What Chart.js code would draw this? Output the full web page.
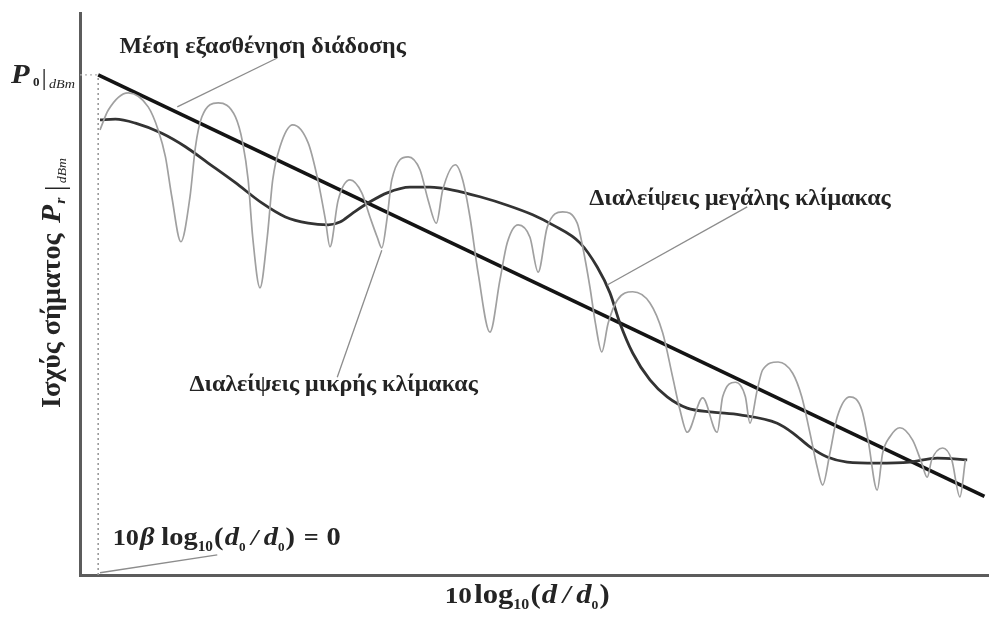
<!DOCTYPE html>
<html>
<head>
<meta charset="utf-8">
<script src="https://cdn.jsdelivr.net/npm/chart.js@4/dist/chart.umd.min.js"></script>
<style>
  html, body { margin: 0; padding: 0; background: #ffffff; }
  canvas { display: block; }
</style>
</head>
<body>
<canvas id="fading" width="989" height="617"></canvas>
<script>
// Received power vs. normalised log-distance (arbitrary units: x 0..100, y 0..100)

// Mean path loss (straight line)
const meanPathLoss = [[2.0, 89.0], [99.5, 14.0]];

// Large-scale (shadow) fading
const largeScale = [
  [2.2, 81.0], [3.9, 81.1], [6.1, 80.4], [9.0, 78.6], [11.6, 76.2], [14.1, 73.3],
  [17.1, 69.8], [20.0, 66.2], [22.6, 63.7], [25.1, 62.6], [27.3, 62.3], [28.6, 62.8],
  [30.0, 64.4], [31.9, 66.4], [33.8, 68.0], [36.3, 69.0], [38.5, 69.0], [41.0, 68.5],
  [44.0, 67.3], [47.0, 65.8], [49.8, 64.1], [52.0, 62.3], [55.0, 59.1], [56.9, 54.8],
  [58.3, 50.2], [59.4, 44.8], [60.8, 39.5], [62.7, 34.7], [64.6, 31.7], [66.8, 29.7],
  [69.6, 29.0], [72.6, 28.5], [76.7, 27.0], [78.4, 25.3], [80.3, 22.8], [82.2, 21.0],
  [84.4, 20.1], [87.7, 19.9], [91.3, 20.1], [94.3, 20.8], [97.6, 20.5]
];

// Small-scale (multipath) fading
const smallScale = [
  [2.2, 79.2], [3.1, 82.7], [5.3, 85.8], [7.5, 83.3], [8.6, 79.2], [9.4, 74.4],
  [10.1, 67.3], [11.1, 59.3], [12.1, 67.3], [12.7, 76.2], [13.4, 81.5], [15.2, 84.0],
  [17.1, 81.5], [17.9, 76.9], [18.5, 70.3], [19.0, 60.1], [19.8, 51.1], [20.6, 60.1],
  [21.2, 70.3], [22.0, 76.2], [23.4, 80.1], [25.1, 76.9], [26.1, 70.8], [27.0, 63.2],
  [27.5, 58.4], [28.4, 66.7], [29.7, 70.3], [31.0, 68.0], [31.9, 63.7], [32.7, 60.1],
  [33.2, 58.2], [33.8, 63.7], [34.3, 70.3], [36.1, 74.4], [37.4, 72.1], [38.3, 66.7],
  [39.2, 62.6], [39.9, 68.5], [41.3, 73.0], [42.1, 70.3], [42.9, 63.7], [43.8, 53.7],
  [45.1, 43.2], [46.2, 52.5], [47.0, 59.1], [48.2, 62.3], [49.5, 60.1], [50.4, 53.9],
  [51.4, 61.9], [53.1, 64.6], [54.7, 62.6], [55.3, 58.4], [56.1, 51.2], [56.7, 44.8],
  [57.4, 39.7], [58.1, 44.8], [59.1, 48.9], [60.8, 50.4], [62.7, 48.4], [64.1, 43.1],
  [65.2, 35.2], [66.0, 29.4], [66.8, 25.4], [68.5, 31.5], [70.1, 25.4], [70.7, 31.7],
  [72.1, 34.3], [73.2, 31.7], [73.7, 27.0], [74.5, 32.9], [75.1, 36.5], [76.8, 37.9],
  [78.4, 35.9], [79.4, 31.7], [80.3, 25.3], [81.1, 19.2], [81.7, 16.0], [82.5, 21.7],
  [83.3, 28.1], [84.7, 31.7], [86.0, 29.4], [86.7, 24.0], [87.7, 15.1], [88.3, 21.7],
  [89.1, 24.6], [90.2, 26.2], [91.6, 24.0], [92.6, 19.9], [93.2, 17.4], [93.7, 20.5],
  [94.9, 22.6], [95.9, 20.5], [96.8, 13.9], [97.4, 20.5]
];

// Reference markers at d = d0
const refVertical = [[2.0, 0], [2.0, 89.0]];
const refHorizontal = [[0, 89.0], [2.0, 89.0]];

// Callout leader lines
const leaderMean = [[21.7, 92.0], [10.7, 83.3]];
const leaderLarge = [[73.4, 65.5], [58.0, 51.6]];
const leaderSmall = [[28.3, 35.2], [33.2, 57.8]];
const leaderOrigin = [[15.1, 3.6], [2.2, 0.4]];

// Text labels
const labelMean = 'Μέση εξασθένηση διάδοσης';
const labelLarge = 'Διαλείψεις μεγάλης κλίμακας';
const labelSmall = 'Διαλείψεις μικρής κλίμακας';
const labelYAxis = 'Ισχύς σήματος';

const pts = arr => arr.map(([x, y]) => ({ x, y }));

const SERIF = '"Liberation Serif", "DejaVu Serif", serif';
const TEXT = '#242424';

// Draws a run of differently styled text pieces one after another;
// when a width is given, the run is stretched horizontally to that width
function drawRich(ctx, parts, x, y, align, width) {
  let total = 0;
  parts.forEach(p => {
    ctx.font = p.font;
    p.w = ctx.measureText(p.t).width;
    total += p.w + (p.gap || 0);
  });
  const sx = width ? width / total : 1;
  const start = align === 'center' ? x - (total * sx) / 2 : x;
  ctx.save();
  ctx.translate(start, y);
  ctx.scale(sx, 1);
  let cx = 0;
  parts.forEach(p => {
    ctx.font = p.font;
    ctx.fillText(p.t, cx, p.dy || 0);
    cx += p.w + (p.gap || 0);
  });
  ctx.restore();
}

const annotations = {
  id: 'annotations',
  afterDraw(chart) {
    const ctx = chart.ctx;
    const X = v => chart.scales.x.getPixelForValue(v);
    const Y = v => chart.scales.y.getPixelForValue(v);
    ctx.save();
    ctx.fillStyle = TEXT;
    ctx.textBaseline = 'alphabetic';
    ctx.textAlign = 'left';

    const B = s => `bold ${s}px ${SERIF}`;
    const BI = s => `italic bold ${s}px ${SERIF}`;

    drawRich(ctx, [{ t: labelMean, font: B(24) }], X(20.1), Y(92.9), 'center');
    drawRich(ctx, [{ t: labelLarge, font: B(24) }], X(72.6), Y(65.8), 'center');
    drawRich(ctx, [{ t: labelSmall, font: B(24) }], X(27.9), Y(32.7), 'center');

    // 10β log10(d0 / d0) = 0
    drawRich(ctx, [
      { t: '10', font: B(24), gap: 1 },
      { t: 'β', font: BI(26), gap: 6 },
      { t: 'log', font: B(26) },
      { t: '10', font: B(14), dy: 6, gap: 1 },
      { t: '(', font: B(26), gap: 1 },
      { t: 'd', font: BI(26) },
      { t: '0', font: B(12), dy: 6, gap: 5 },
      { t: '/', font: BI(24), gap: 5 },
      { t: 'd', font: BI(26) },
      { t: '0', font: B(12), dy: 6, gap: 1 },
      { t: ')', font: B(26), gap: 8 },
      { t: '=', font: B(24), gap: 7 },
      { t: '0', font: B(26) }
    ], X(3.6), Y(5.3), 'left', 228);

    // x-axis title: 10 log10(d / d0)
    drawRich(ctx, [
      { t: '10', font: B(24), gap: 2 },
      { t: 'log', font: B(27) },
      { t: '10', font: B(14), dy: 6, gap: 1 },
      { t: '(', font: B(27), gap: 1 },
      { t: 'd', font: BI(27), gap: 5 },
      { t: '/', font: BI(25), gap: 5 },
      { t: 'd', font: BI(27) },
      { t: '0', font: B(12), dy: 6, gap: 1 },
      { t: ')', font: B(27) }
    ], X(49.2), chart.chartArea.bottom + 28, 'center', 165);

    // P0 | dBm at the top of the power axis
    drawRich(ctx, [
      { t: 'P', font: BI(28), gap: 3 },
      { t: '0', font: B(12), dy: 3, gap: 2 },
      { t: '|', font: `24px ${SERIF}`, dy: 2, gap: 2 },
      { t: 'dBm', font: `italic 13px ${SERIF}`, dy: 5 }
    ], 11, Y(89.0) + 8, 'left', 64);

    // rotated power axis title
    ctx.translate(60, 283);
    ctx.rotate(-Math.PI / 2);
    drawRich(ctx, [
      { t: labelYAxis, font: B(26.5), gap: 10 },
      { t: 'P', font: BI(28), gap: 1 },
      { t: 'r', font: BI(15), dy: 5, gap: 6 },
      { t: '|', font: `28px ${SERIF}`, dy: 4, gap: 2 },
      { t: 'dBm', font: `italic 13px ${SERIF}`, dy: 6 }
    ], 0, 0, 'center', 250);
    ctx.restore();
  }
};

const leader = data => ({
  data: pts(data), borderColor: '#8c8c8c', borderWidth: 1.3, tension: 0, pointRadius: 0
});

new Chart(document.getElementById('fading'), {
  type: 'line',
  data: {
    datasets: [
      { data: pts(refVertical), borderColor: '#9a9a9a', borderWidth: 1.6, borderDash: [2, 3], pointRadius: 0 },
      { data: pts(refHorizontal), borderColor: '#b0b0b0', borderWidth: 1.2, borderDash: [2, 3], pointRadius: 0 },
      leader(leaderMean), leader(leaderLarge), leader(leaderSmall), leader(leaderOrigin),
      { data: pts(smallScale), borderColor: '#a0a0a0', borderWidth: 1.7, cubicInterpolationMode: 'monotone', pointRadius: 0 },
      { data: pts(largeScale), borderColor: '#333333', borderWidth: 2.8, cubicInterpolationMode: 'monotone', pointRadius: 0 },
      { data: pts(meanPathLoss), borderColor: '#141414', borderWidth: 3.6, tension: 0, pointRadius: 0 }
    ]
  },
  options: {
    responsive: false,
    animation: false,
    events: [],
    layout: { padding: { left: 80, top: 13, right: 0, bottom: 42 } },
    plugins: { legend: { display: false }, tooltip: { enabled: false } },
    scales: {
      x: {
        type: 'linear', min: 0, max: 100,
        ticks: { display: false },
        grid: { display: false, drawTicks: false },
        border: { display: true, color: '#5c5c5c', width: 3 }
      },
      y: {
        type: 'linear', min: 0, max: 100,
        ticks: { display: false },
        grid: { display: false, drawTicks: false },
        border: { display: true, color: '#5c5c5c', width: 3 }
      }
    }
  },
  plugins: [annotations]
});
</script>
</body>
</html>
